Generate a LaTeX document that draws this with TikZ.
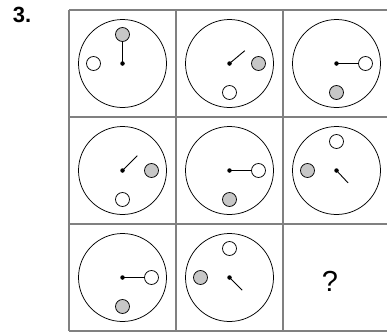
\documentclass[tikz,border=0pt]{standalone}
\usepackage{fontspec}
\setmainfont{Liberation Sans}
\usetikzlibrary{positioning,calc}

\tikzset{
  face/.style={circle, draw, line width=0.75pt, minimum size=88pt, inner sep=0pt},
  ball/.style={circle, draw, line width=0.75pt, minimum size=14pt, inner sep=0pt},
  whiteball/.style={ball, fill=white},
  grayball/.style={ball, fill=black!22},
  pivot/.style={circle, fill=black, minimum size=4.5pt, inner sep=0pt},
  hand/.style={line width=0.9pt},
  gridline/.style={draw=black!50, line width=1.4pt}
}

\begin{document}
\begin{tikzpicture}[x=1pt, y=1pt]
\useasboundingbox (0,0) rectangle (387,-335);
% 3x3 grid, last column runs off the page
\foreach \i in {0,1,2,3}{
  \draw[gridline] ({69+107*\i},-10) -- ({69+107*\i},-331);
  \draw[gridline] (69,{-10-107*\i}) -- (396,{-10-107*\i});
}
\node[font=\bfseries\fontsize{22}{24}\selectfont] (num) at (22,-15) {3.};
% row/col/hand angle/hand length/white angle/gray angle
\foreach \r/\c/\ha/\hl/\wa/\ga in {1/1/90/22/180/90, 1/2/40/20/270/0, 1/3/0/22/0/270,
    2/1/45/21/270/0, 2/2/0/22/0/270, 2/3/-47/17/90/180,
    3/1/0/22/0/270, 3/2/-45/18/90/180}{
  \node[face] (f\r\c) at ({69+107*(\c-0.5)},{-10-107*(\r-0.5)}) {};
  \node[whiteball] (w\r\c) at ($(f\r\c.center)+(\wa:29)$) {};
  \node[grayball] (g\r\c) at ($(f\r\c.center)+(\ga:29)$) {};
  \path (f\r\c.center) ++(\ha:\hl) coordinate (t\r\c);
  \draw[hand] (f\r\c.center) -- (t\r\c);
  \node[pivot] (p\r\c) at (f\r\c.center) {};
}
\node[font=\fontsize{29}{30}\selectfont] (q) at (330,-281) {?};
\end{tikzpicture}
\end{document}
